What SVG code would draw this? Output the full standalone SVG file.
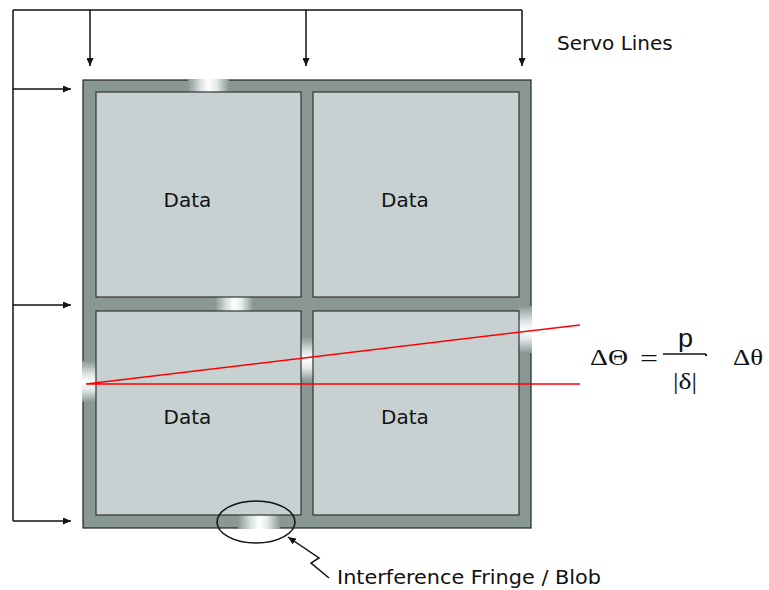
<svg xmlns="http://www.w3.org/2000/svg" width="769" height="590" viewBox="0 0 769 590">
  <style>
    .frame { fill: #8A9894; stroke: #222; stroke-width: 1.2; }
    .cell { fill: #C7D1D1; stroke: #333; stroke-width: 1.2; }
    .wire { fill: none; stroke: #111; stroke-width: 1.5; }
    .ray { fill: none; stroke: #FF0000; stroke-width: 1.5; }
    .lbl { font-family: "DejaVu Sans", Verdana, sans-serif; font-size: 20px; fill: #111; }
    .math { font-family: "Liberation Serif", "Times New Roman", serif; font-size: 24px; fill: #111; }
    .mathsans { font-family: "Liberation Sans", Arial, sans-serif; font-size: 25px; fill: #111; }
  </style>
  <defs>
    <marker id="arrow" viewBox="0 0 8 7" refX="8" refY="3.5" markerWidth="8" markerHeight="7" markerUnits="userSpaceOnUse" orient="auto">
      <path d="M0,0 L8,3.5 L0,7 z" fill="#111"/>
    </marker>
    <linearGradient id="glowH" x1="0" y1="0" x2="1" y2="0">
      <stop offset="0" stop-color="#8A9894"/>
      <stop offset="0.3" stop-color="#d8e0e0"/>
      <stop offset="0.5" stop-color="#ffffff"/>
      <stop offset="0.7" stop-color="#e4eaea"/>
      <stop offset="1" stop-color="#8A9894"/>
    </linearGradient>
    <linearGradient id="glowV" x1="0" y1="0" x2="0" y2="1">
      <stop offset="0" stop-color="#8A9894"/>
      <stop offset="0.3" stop-color="#d8e0e0"/>
      <stop offset="0.5" stop-color="#ffffff"/>
      <stop offset="0.7" stop-color="#e4eaea"/>
      <stop offset="1" stop-color="#8A9894"/>
    </linearGradient>
  </defs>

  <!-- detector frame with fringe glows on the separators -->
  <g id="frame">
    <rect class="frame" x="83" y="80" width="448" height="448"/>
    <rect x="188" y="79" width="41" height="14" fill="url(#glowH)"/>
    <rect x="215" y="297" width="38" height="14" fill="url(#glowH)"/>
    <rect x="238" y="514" width="42" height="15" fill="url(#glowH)"/>
    <rect x="82" y="361" width="14" height="41" fill="url(#glowV)"/>
    <rect x="301" y="337" width="12" height="44" fill="url(#glowV)"/>
    <rect x="519" y="306" width="13" height="47" fill="url(#glowV)"/>
  </g>

  <g id="cell-tl">
    <rect class="cell" x="96" y="92" width="205" height="205"/>
    <text class="lbl" x="187.5" y="207" text-anchor="middle">Data</text>
  </g>
  <g id="cell-tr">
    <rect class="cell" x="313" y="92" width="206" height="205"/>
    <text class="lbl" x="405" y="207" text-anchor="middle">Data</text>
  </g>
  <g id="cell-bl">
    <rect class="cell" x="96" y="311" width="205" height="204"/>
    <text class="lbl" x="187.5" y="424" text-anchor="middle">Data</text>
  </g>
  <g id="cell-br">
    <rect class="cell" x="313" y="311" width="206" height="204"/>
    <text class="lbl" x="405" y="424" text-anchor="middle">Data</text>
  </g>

  <!-- servo wiring -->
  <g id="connectors">
    <path class="wire" d="M13,10 H522 M13,10 V521"/>
    <path class="wire" d="M90,10 V66" marker-end="url(#arrow)"/>
    <path class="wire" d="M306,10 V66" marker-end="url(#arrow)"/>
    <path class="wire" d="M522,10 V66" marker-end="url(#arrow)"/>
    <path class="wire" d="M13,89 H71" marker-end="url(#arrow)"/>
    <path class="wire" d="M13,305 H71" marker-end="url(#arrow)"/>
    <path class="wire" d="M13,521 H71" marker-end="url(#arrow)"/>
    <!-- callout around the bottom fringe -->
    <ellipse class="wire" cx="256" cy="522" rx="39" ry="21"/>
    <path class="wire" d="M329,578 L311,563 L319,558 L288,537" marker-end="url(#arrow)"/>
    <!-- beam rays -->
    <path class="ray" d="M86,384 H580 M86,384 L580,325"/>
  </g>

  <g id="servo-label">
    <text class="lbl" x="557" y="50">Servo Lines</text>
  </g>
  <g id="fringe-label">
    <text class="lbl" x="337" y="584" textLength="264" lengthAdjust="spacingAndGlyphs">Interference Fringe / Blob</text>
  </g>

  <g id="formula">
    <text class="math" x="590" y="365" textLength="38" lengthAdjust="spacingAndGlyphs">ΔΘ</text>
    <text class="math" x="640" y="366" font-size="30" textLength="18" lengthAdjust="spacingAndGlyphs">=</text>
    <line x1="663" y1="354" x2="706" y2="354" stroke="#111" stroke-width="1.4"/>
    <rect x="705" y="354" width="2" height="2" fill="#111"/>
    <text class="mathsans" x="678" y="347" textLength="15" lengthAdjust="spacingAndGlyphs">p</text>
    <text class="math" x="673" y="389" font-size="25" textLength="24" lengthAdjust="spacingAndGlyphs">|δ|</text>
    <text class="math" x="733" y="365" textLength="30" lengthAdjust="spacingAndGlyphs">Δθ</text>
  </g>
</svg>
